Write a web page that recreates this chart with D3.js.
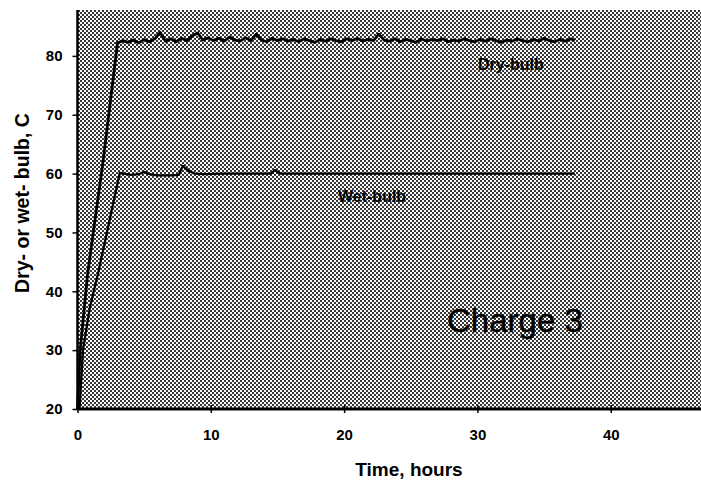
<!DOCTYPE html>
<html>
<head>
<meta charset="utf-8">
<script src="https://cdn.jsdelivr.net/npm/d3@7"></script>
<style>
  html, body { margin: 0; padding: 0; background: #fff; }
  svg { display: block; font-family: Arial, "Liberation Sans", sans-serif; }
</style>
</head>
<body>
<svg id="chart" width="701" height="483"></svg>
<script>
// Charge 3 - dry- and wet-bulb temperatures vs time
const xTicks = [0, 10, 20, 30, 40];
const yTicks = [20, 30, 40, 50, 60, 70, 80];

const dryHours = [0, 0.2, 0.76, 1.93, 3.0, 3.4, 3.8, 4.2, 4.6, 5.0, 5.4, 5.8, 6.2, 6.6, 7.0, 7.4, 7.8, 8.2, 8.6, 9.0,
  9.4, 9.8, 10.2, 10.6, 11.0, 11.4, 11.8, 12.2, 12.6, 13.0, 13.4, 13.8, 14.2, 14.6, 15.0, 15.4, 15.8, 16.2, 16.6, 17.0,
  17.4, 17.8, 18.2, 18.6, 19.0, 19.4, 19.8, 20.2, 20.6, 21.0, 21.4, 21.8, 22.2, 22.6, 23.0, 23.4, 23.8, 24.2, 24.6, 25.0,
  25.4, 25.8, 26.2, 26.6, 27.0, 27.4, 27.8, 28.2, 28.6, 29.0, 29.4, 29.8, 30.2, 30.6, 31.0, 31.4, 31.8, 32.2, 32.6, 33.0,
  33.4, 33.8, 34.2, 34.6, 35.0, 35.4, 35.8, 36.2, 36.6, 37.0, 37.3];
const dryTemp = [20, 30, 43, 62.3, 82.2, 82.6, 82.3, 82.7, 82.2, 82.8, 82.4, 82.9, 84.0, 82.5, 82.9, 82.4, 83.0, 82.6, 83.4, 83.9,
  82.7, 83.1, 82.6, 83.0, 82.5, 83.2, 82.7, 82.5, 83.1, 82.6, 83.7, 82.7, 82.4, 83.0, 82.6, 82.9, 82.5, 82.8, 82.4, 82.9,
  82.6, 82.3, 82.8, 82.5, 82.9, 82.6, 82.4, 82.9, 82.6, 83.0, 82.5, 82.8, 82.6, 83.7, 82.7, 82.5, 82.9, 82.4, 82.8, 82.6,
  82.3, 82.9, 82.5, 82.8, 82.6, 82.9, 82.4, 82.7, 82.5, 82.9, 82.6, 82.4, 82.8, 82.5, 82.9, 82.6, 82.3, 82.7, 82.5, 82.9,
  82.6, 82.4, 82.8, 82.5, 83.0, 82.6, 82.4, 82.8, 82.5, 82.9, 82.6];

const wetHours = [0.15, 0.41, 0.93, 1.55, 3.17, 3.5, 4.0, 4.6, 5.0, 5.4, 6.0, 7.0, 7.6, 7.9, 8.3, 8.8, 9.5, 11.0, 13.0,
  14.5, 14.8, 15.2, 17.0, 20.0, 23.0, 26.0, 29.0, 32.0, 35.0, 37.3];
const wetTemp = [20, 30, 37.3, 43.1, 60.1, 60.0, 59.8, 59.9, 60.3, 59.9, 59.7, 59.7, 59.8, 61.3, 60.5, 60.0, 59.9, 60.0, 60.0,
  60.0, 60.6, 60.0, 60.0, 60.0, 60.0, 60.0, 60.0, 60.0, 60.0, 60.0];

const seriesLabels = ['Dry-bulb', 'Wet-bulb'];
const chartNote = 'Charge 3';

const svg = d3.select('#chart');
const plot = { left: 77.5, right: 701, top: 10, bottom: 409 };

const x = d3.scaleLinear().domain([0, 46.77]).range([plot.left, plot.right]);
const y = d3.scaleLinear().domain([20, 87.8]).range([plot.bottom, plot.top]);

// dithered grey background like the scanned original
const defs = svg.append('defs');
const pat = defs.append('pattern')
  .attr('id', 'dither').attr('patternUnits', 'userSpaceOnUse')
  .attr('width', 4).attr('height', 4);
pat.append('rect').attr('width', 4).attr('height', 4).attr('fill', '#fbfbfb');
pat.append('rect').attr('x', 0).attr('y', 0).attr('width', 2).attr('height', 2).attr('fill', '#383838');
pat.append('rect').attr('x', 2).attr('y', 2).attr('width', 2).attr('height', 2).attr('fill', '#383838');

svg.append('rect')
  .attr('x', plot.left).attr('y', plot.top)
  .attr('width', plot.right - plot.left).attr('height', plot.bottom - plot.top)
  .attr('fill', 'url(#dither)');

// lines
const line = d3.line().x(d => x(d[0])).y(d => y(d[1]));
const dryData = dryHours.map((h, i) => [h, dryTemp[i]]);
const wetData = wetHours.map((h, i) => [h, wetTemp[i]]);

svg.append('path').datum(dryData).attr('d', line)
  .attr('fill', 'none').attr('stroke', '#000').attr('stroke-width', 2.8).attr('stroke-linejoin', 'round');
svg.append('path').datum(wetData).attr('d', line)
  .attr('fill', 'none').attr('stroke', '#000').attr('stroke-width', 2.3).attr('stroke-linejoin', 'round');

// axes
const yAxis = svg.append('g').attr('transform', `translate(${plot.left},0)`)
  .call(d3.axisLeft(y).tickValues(yTicks).tickSize(5).tickPadding(10).tickFormat(d3.format('d')));
yAxis.select('.domain').attr('d', `M0,${plot.top}V${plot.bottom}`).attr('stroke-width', 2.5);
yAxis.selectAll('.tick line').attr('stroke-width', 1.5);
yAxis.selectAll('.tick text').attr('font-size', 15).attr('font-weight', 'bold').attr('fill', '#000')
  .attr('font-family', 'Arial, "Liberation Sans", sans-serif');

const xAxis = svg.append('g').attr('transform', `translate(0,${plot.bottom})`)
  .call(d3.axisBottom(x).tickValues(xTicks).tickSize(4).tickPadding(16).tickFormat(d3.format('d')));
xAxis.select('.domain').attr('d', `M${plot.left},0H${plot.right}`).attr('stroke-width', 3);
xAxis.selectAll('.tick line').attr('y1', -4).attr('stroke-width', 1.5);
xAxis.selectAll('.tick text').attr('font-size', 15).attr('font-weight', 'bold').attr('fill', '#000')
  .attr('font-family', 'Arial, "Liberation Sans", sans-serif');

// axis titles
svg.append('text')
  .attr('x', 409).attr('y', 476)
  .attr('text-anchor', 'middle').attr('font-size', 19).attr('font-weight', 'bold')
  .text('Time, hours');

svg.append('text')
  .attr('transform', 'translate(29,203) rotate(-90)')
  .attr('text-anchor', 'middle').attr('font-size', 19.5).attr('font-weight', 'bold')
  .text('Dry- or wet- bulb, C');

// series labels + note
svg.append('text').attr('x', 478).attr('y', 70)
  .attr('font-size', 16).attr('font-weight', 'bold').text(seriesLabels[0]);
svg.append('text').attr('x', 338).attr('y', 202)
  .attr('font-size', 16).attr('font-weight', 'bold').text(seriesLabels[1]);
svg.append('text').attr('x', 447).attr('y', 332)
  .attr('font-size', 33).attr('stroke', '#000').attr('stroke-width', 0.4).text(chartNote);
</script>
</body>
</html>
